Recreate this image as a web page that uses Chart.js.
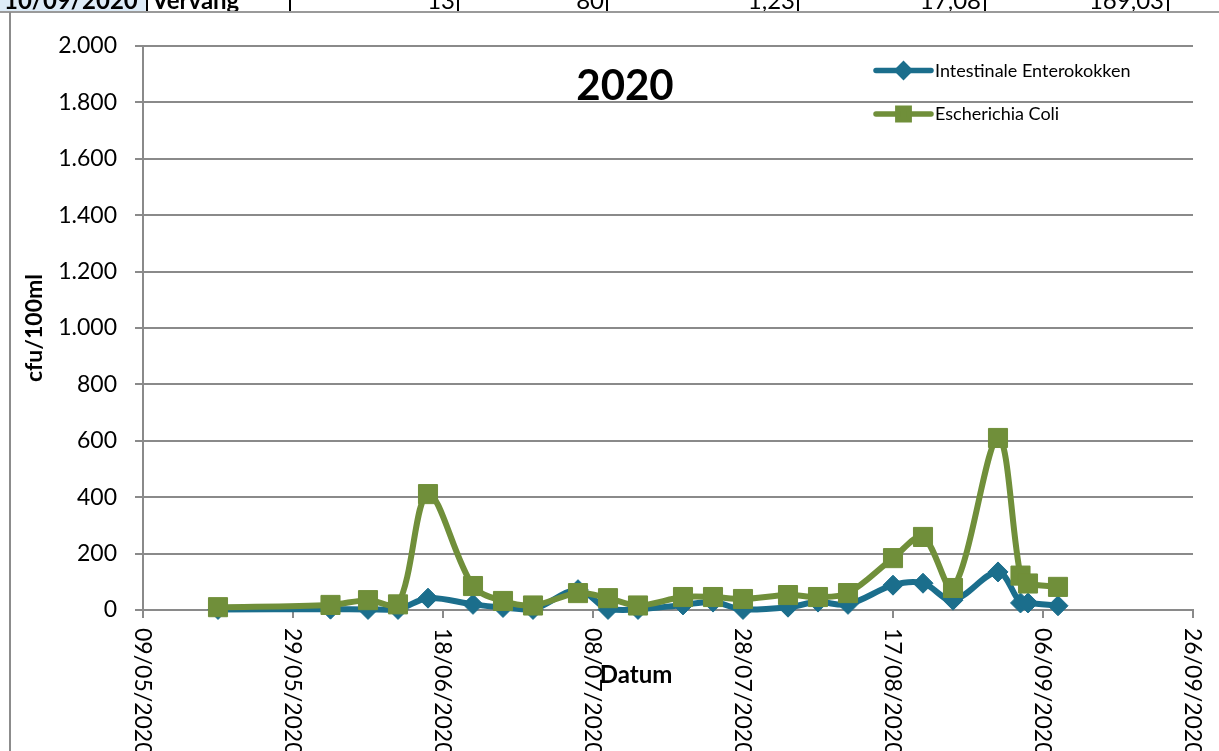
<!DOCTYPE html>
<html>
<head>
<meta charset="utf-8">
<script src="https://cdn.jsdelivr.net/npm/chart.js@4.4.0/dist/chart.umd.min.js"></script>
<style>
html,body{margin:0;padding:0;background:#fff;}
#wrap{position:relative;width:1219px;height:751px;overflow:hidden;background:#fff;}
#c{position:absolute;left:0;top:0;}
.cellbg{position:absolute;left:0;top:0;width:147px;height:11px;background:#DDEBF7;}
.vb{position:absolute;top:0;width:2px;height:11px;background:#000;}
.hb{position:absolute;left:0;top:11px;width:1219px;height:2px;background:#9a9a9a;}
.frame{position:absolute;left:9px;top:12px;width:2px;height:739px;background:#8c8c8c;}
.t{position:absolute;top:-12px;font-family:Lato,sans-serif;font-size:24px;line-height:24px;color:#000;white-space:nowrap;}
.b{font-weight:bold;}
.r{text-align:right;}
</style>
</head>
<body>
<div id="wrap">
  <canvas id="c" width="1219" height="751"></canvas>
  <div class="cellbg"></div>
  <span class="t b" style="left:4px">10/09/2020</span>
  <span class="t b" style="left:152px">Vervang</span>
  <span class="t r" style="right:calc(1219px - 455px)">13</span>
  <span class="t r" style="right:calc(1219px - 604px)">80</span>
  <span class="t r" style="right:calc(1219px - 795px)">1,23</span>
  <span class="t r" style="right:calc(1219px - 981px)">17,08</span>
  <span class="t r" style="right:calc(1219px - 1164px)">169,03</span>
  <div class="vb" style="left:146px"></div>
  <div class="vb" style="left:289px"></div>
  <div class="vb" style="left:457px"></div>
  <div class="vb" style="left:606px"></div>
  <div class="vb" style="left:797px"></div>
  <div class="vb" style="left:984px"></div>
  <div class="vb" style="left:1167px"></div>
  <div class="hb"></div>
  <div class="frame"></div>
</div>
<script>
// ---- data ----
const dates = ['19/05/2020','03/06/2020','08/06/2020','12/06/2020','16/06/2020','22/06/2020',
               '26/06/2020','30/06/2020','06/07/2020','10/07/2020','14/07/2020','20/07/2020',
               '24/07/2020','28/07/2020','03/08/2020','07/08/2020','11/08/2020','17/08/2020',
               '21/08/2020','25/08/2020','31/08/2020','03/09/2020','04/09/2020','08/09/2020'];
const enterokokken = [2, 3, 2, 2, 42, 20, 9, 2, 72, 2, 2, 18, 28, 2, 10, 28, 20, 88, 95, 35, 135, 25, 25, 15];
const ecoli = [10, 18, 35, 20, 411, 85, 32, 16, 60, 42, 16, 46, 46, 39, 53, 46, 60, 184, 259, 78, 610, 122, 94, 82];
const xTickLabels = ['09/05/2020','29/05/2020','18/06/2020','08/07/2020','28/07/2020','17/08/2020','06/09/2020','26/09/2020'];
const yMin = 0, yMax = 2000, yStep = 200;
const seriesNames = ['Intestinale Enterokokken', 'Escherichia Coli'];
const chartTitle = '2020';
const xTitle = 'Datum';
const yTitle = 'cfu/100ml';

// ---- helpers ----
const BLUE = '#1B6E8C', GREEN = '#708F3A', GRID = '#8a8a8a';
const FONT = 'Lato';
function toDay(s){ const [d,m,y] = s.split('/').map(Number); return Date.UTC(y, m-1, d) / 86400000; }
function fromDay(n){ const dt = new Date(Math.round(n) * 86400000);
  const p = v => String(v).padStart(2,'0');
  return p(dt.getUTCDate()) + '/' + p(dt.getUTCMonth()+1) + '/' + dt.getUTCFullYear(); }
function fmtNum(v){ return String(v).replace(/\B(?=(\d{3})+(?!\d))/g, '.'); }

const xTickDays = xTickLabels.map(toDay);

const decor = {
  id: 'decor',
  afterDraw(chart){
    const ctx = chart.ctx;
    const xs = chart.scales.x;
    ctx.save();
    ctx.fillStyle = '#000';
    // rotated x tick labels (reading top to bottom)
    ctx.font = '23px ' + FONT;
    ctx.textAlign = 'left';
    ctx.textBaseline = 'alphabetic';
    xs.ticks.forEach(t => {
      const px = xs.getPixelForValue(t.value);
      ctx.save();
      ctx.translate(px, xs.top + 18);
      ctx.rotate(Math.PI / 2);
      ctx.fillText(t.label, 0, 8.3);
      ctx.restore();
    });
    // x axis title
    ctx.font = 'bold 24px ' + FONT;
    ctx.textAlign = 'center';
    ctx.fillText(xTitle, 636, 683);
    // chart title
    ctx.font = 'bold 42px ' + FONT;
    ctx.fillText(chartTitle, 625, 100);
    // legend
    const rows = [70.5, 114];
    const textBase = [76.5, 120];
    chart.data.datasets.forEach((ds, i) => {
      const y = rows[i];
      ctx.strokeStyle = ds.borderColor;
      ctx.lineWidth = 5.5;
      ctx.lineCap = 'round';
      ctx.beginPath(); ctx.moveTo(876, y); ctx.lineTo(931, y); ctx.stroke();
      ctx.fillStyle = ds.borderColor;
      Chart.helpers.drawPoint(ctx, {pointStyle: ds.pointStyle, radius: i === 0 ? 6 : 8, borderWidth: 1, rotation: 0}, 903.5, y);
      ctx.fillStyle = '#000';
      ctx.font = '18px ' + FONT;
      ctx.textAlign = 'left';
      ctx.fillText(ds.label, 935, textBase[i]);
    });
    ctx.restore();
  }
};

new Chart(document.getElementById('c'), {
  type: 'line',
  data: {
    datasets: [
      { label: seriesNames[0], data: dates.map((d,i) => ({x: toDay(d), y: enterokokken[i]})),
        borderColor: BLUE, backgroundColor: BLUE, borderWidth: 6, tension: 0.33,
        pointStyle: 'rectRot', pointRadius: 10, pointBorderWidth: 1, pointBackgroundColor: BLUE,
        pointBorderColor: BLUE, fill: false, clip: false, order: 1 },
      { label: seriesNames[1], data: dates.map((d,i) => ({x: toDay(d), y: ecoli[i]})),
        borderColor: GREEN, backgroundColor: GREEN, borderWidth: 6, tension: 0.33,
        pointStyle: 'rect', pointRadius: 13.5, pointBorderWidth: 1, pointBackgroundColor: GREEN,
        pointBorderColor: GREEN, fill: false, clip: false, order: 0 }
    ]
  },
  options: {
    responsive: false,
    animation: false,
    devicePixelRatio: 1,
    layout: { padding: { left: 0, top: 46, right: 26, bottom: 0 } },
    plugins: { legend: { display: false }, tooltip: { enabled: false } },
    scales: {
      x: {
        type: 'linear',
        min: xTickDays[0], max: xTickDays[xTickDays.length - 1],
        afterBuildTicks: s => { s.ticks = xTickDays.map(v => ({ value: v })); },
        afterFit: s => { s.height = 141; },
        ticks: { display: false, callback: v => fromDay(v) },
        grid: { drawOnChartArea: false, drawTicks: true, tickLength: 8, color: GRID, lineWidth: 2 },
        border: { display: true, color: GRID, width: 2 }
      },
      y: {
        min: yMin, max: yMax,
        afterFit: s => { s.width = 143; },
        ticks: { stepSize: yStep, padding: 18, color: '#000', font: { family: FONT, size: 23 }, callback: v => fmtNum(v) },
        grid: { color: GRID, lineWidth: 2, tickLength: 8, drawTicks: true },
        border: { display: true, color: GRID, width: 2 },
        title: { display: true, text: yTitle, color: '#000', font: { family: FONT, size: 23, weight: 'bold' }, padding: { top: 21, bottom: 0 } }
      }
    }
  },
  plugins: [decor]
});
</script>
</body>
</html>
